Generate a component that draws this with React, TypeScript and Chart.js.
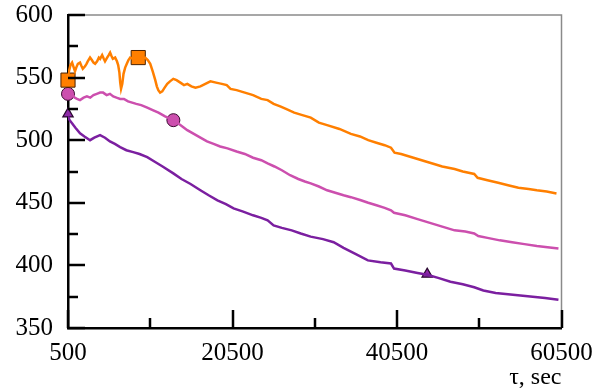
import { useEffect, useRef } from "react";
import { Chart, registerables } from "chart.js";

Chart.register(...registerables);

// axis ticks
const xTickValues = [500, 20500, 40500, 60500];
const xMinorTickValues = [10500, 30500, 50500];
const yTickValues = [350, 400, 450, 500, 550, 600];
const yMinorTickValues = [375, 425, 475, 525, 575];
const xAxisTitle = "τ, sec";

// orange series (top)
const orangeTau = [
  500, 650, 800, 1000, 1200, 1350, 1500, 1700, 1960, 2150,
  2300, 2570, 2750, 2900, 3180, 3400, 3600, 3800, 4040, 4250,
  4400, 4650, 4850, 5000, 5260, 5450, 5620, 5800, 5950, 6230,
  6450, 6600, 6750, 6850, 6950, 7100, 7250, 7450, 7650, 7850,
  8060, 8400, 8700, 9040, 9400, 9890, 10200, 10500, 10800, 11110,
  11300, 11480, 11700, 11960, 12250, 12570, 12900, 13300, 13700, 14160,
  14600, 15010, 15500, 16000, 16600, 17200, 17820, 18500, 19200, 19800,
  20260, 21000, 22000, 23000, 24000, 24770, 25500, 26300, 27000, 28000,
  29000, 30010, 31000, 32000, 33500, 34890, 36000, 37000, 38000, 39000,
  39770, 40200, 41000, 42500, 44000, 45010, 46000, 47500, 48500, 49890,
  50300, 51500, 52800, 54000, 55260, 56500, 57500, 58700, 59890,
];
const orangeValues = [
  551, 556, 560, 562, 558, 555, 558, 561, 562, 559,
  557, 559, 561, 563, 566, 564, 562, 561, 563, 566,
  565, 568, 565, 563, 566, 568, 570, 567, 565, 566,
  563, 560, 554, 546, 541, 545, 553, 558, 561, 564,
  566, 565, 566, 566, 565, 566, 564, 561, 555, 548,
  543, 540, 538, 539, 542, 545, 547, 549, 548, 546,
  544, 545, 543, 542, 543, 545, 547, 546, 545, 544,
  541, 540, 538, 536, 533, 532, 529, 527, 525, 522,
  520, 518, 514, 512, 509, 505, 503, 500, 498, 496,
  494, 490, 489, 486, 483, 481, 479, 477, 475, 473,
  470, 468, 466, 464, 462, 461, 460, 459, 457.5,
];

// magenta series (middle)
const magentaTau = [
  500, 700, 980, 1300, 1600, 1960, 2400, 2800, 3200, 3600,
  4000, 4400, 4768, 5200, 5600, 6000, 6400, 6841, 7300, 7800,
  8300, 8800, 9400, 10134, 10800, 11500, 12300, 13305, 14200, 15000,
  15800, 16598, 17400, 18200, 19000, 19890, 21000, 22000, 23000, 24000,
  24770, 25600, 26500, 27500, 28500, 29300, 30010, 31000, 32000, 33000,
  34000, 34890, 36110, 37000, 38000, 39000, 39770, 40140, 41500, 43000,
  44500, 46000, 47500, 48800, 49890, 50380, 51500, 53000, 54500, 56000,
  57500, 58800, 60130,
];
const magentaValues = [
  537, 539, 537, 534, 533, 532, 534, 535, 534, 536,
  537, 538, 538, 536, 537, 535, 534, 533, 533, 531,
  530, 529, 528, 526, 524, 522, 519, 516, 512, 508,
  505, 502, 499, 497, 495, 493.5, 491, 489, 486, 484,
  481.5, 479, 476, 472, 469, 467, 465.5, 463, 460, 458,
  456, 454.5, 452, 450, 448, 446, 444, 442, 440, 437,
  434, 431, 428, 427, 425.5, 423.5, 422, 420, 418.5, 417,
  415.5, 414.5, 413.5,
];

// purple series (bottom)
const purpleTau = [
  500, 700, 988, 1400, 1963, 2500, 3183, 3700, 4400, 5000,
  5600, 6200, 6841, 7600, 8427, 9200, 10134, 11000, 12000, 13305,
  14300, 15400, 16598, 17600, 18670, 19700, 20630, 21800, 23000, 24000,
  24770, 25500, 26500, 27700, 28800, 30000, 31500, 32800, 34000, 35500,
  36960, 38500, 39770, 40140, 41500, 43000, 44170, 45500, 47000, 48500,
  49890, 51000, 52500, 54000, 55500, 57000, 58500, 60130,
];
const purpleValues = [
  519, 516, 513.5, 510, 505.5, 503, 500, 502, 504, 502,
  499, 497, 494.5, 492, 490.5, 489, 486.5, 483, 479, 473.5,
  469, 465, 460, 456, 452, 449, 445.5, 443, 440, 438,
  436, 432, 430, 428, 425.5, 423, 421, 418.5, 414, 409,
  404, 402.5, 401.5, 397.5, 396, 394, 392.5, 390, 387, 385,
  382.5, 380, 378, 377, 376, 375, 374, 372.5,
];

// markers
const squareTau = [500, 9040];
const squareValues = [548, 566];
const circleTau = [500, 13310];
const circleValues = [537, 516];
const triangleTau = [500, 44170];
const triangleValues = [521, 393];

const ORANGE = "#ff7f00";
const MAGENTA = "#cc4fae";
const PURPLE = "#7b1fa0";

const toPoints = (xs: number[], ys: number[]) => xs.map((x, i) => ({ x, y: ys[i] }));

const frameAndTicks = {
  id: "frameAndTicks",
  afterDatasetsDraw(chart: any) {
    const { ctx, chartArea, scales } = chart;
    const { left, right, top, bottom } = chartArea;
    const x = scales.x;
    const y = scales.y;
    ctx.save();
    ctx.strokeStyle = "#8a8a8a";
    ctx.lineWidth = 1.5;
    ctx.beginPath();
    ctx.moveTo(left, top);
    ctx.lineTo(right, top);
    ctx.lineTo(right, bottom);
    ctx.stroke();

    ctx.strokeStyle = "#000";
    ctx.lineWidth = 2.5;
    ctx.beginPath();
    yTickValues.forEach((v) => {
      const py = Math.round(y.getPixelForValue(v));
      ctx.moveTo(left, py);
      ctx.lineTo(left + 17, py);
    });
    yMinorTickValues.forEach((v) => {
      const py = Math.round(y.getPixelForValue(v));
      ctx.moveTo(left, py);
      ctx.lineTo(left + 10, py);
    });
    xTickValues.forEach((v) => {
      const px = Math.round(x.getPixelForValue(v));
      ctx.moveTo(px, bottom);
      ctx.lineTo(px, bottom - 18);
    });
    xMinorTickValues.forEach((v) => {
      const px = Math.round(x.getPixelForValue(v));
      ctx.moveTo(px, bottom);
      ctx.lineTo(px, bottom - 10);
    });
    ctx.stroke();
    ctx.restore();
  },
};

export default function App() {
  const canvasRef = useRef<HTMLCanvasElement | null>(null);

  useEffect(() => {
    if (!canvasRef.current) return;
    Chart.defaults.font.family = "'Liberation Serif', 'DejaVu Serif', serif";
    Chart.defaults.color = "#000";

    const lineDs = (data: any[], color: string) => ({
      data,
      showLine: true,
      borderColor: color,
      backgroundColor: color,
      borderWidth: 2.5,
      pointRadius: 0,
      tension: 0,
      fill: false,
    });

    const chart = new Chart(canvasRef.current, {
      type: "scatter",
      data: {
        datasets: [
          lineDs(toPoints(purpleTau, purpleValues), PURPLE),
          lineDs(toPoints(magentaTau, magentaValues), MAGENTA),
          lineDs(toPoints(orangeTau, orangeValues), ORANGE),
          {
            data: toPoints(squareTau, squareValues),
            pointStyle: "rect",
            pointRadius: 10,
            backgroundColor: ORANGE,
            borderColor: "#4a2200",
            borderWidth: 1,
            clip: false,
          },
          {
            data: toPoints(circleTau, circleValues),
            pointStyle: "circle",
            pointRadius: 6.5,
            backgroundColor: MAGENTA,
            borderColor: "#3a0a30",
            borderWidth: 1,
            clip: false,
          },
          {
            data: toPoints(triangleTau, triangleValues),
            pointStyle: "triangle",
            pointRadius: 6,
            backgroundColor: "#8e2aa8",
            borderColor: "#2a0830",
            borderWidth: 1.2,
            clip: false,
          },
        ] as any,
      },
      options: {
        animation: false,
        responsive: false,
        maintainAspectRatio: false,
        layout: { padding: { top: 0, right: 42.5, left: 0, bottom: 0 } },
        plugins: {
          legend: { display: false },
          tooltip: { enabled: false },
        },
        scales: {
          x: {
            type: "linear",
            min: 500,
            max: 60500,
            afterBuildTicks: (scale: any) => {
              scale.ticks = xTickValues.map((value) => ({ value }));
            },
            afterFit: (scale: any) => {
              scale.height = 64;
            },
            grid: { display: false, drawTicks: false },
            border: { display: true, color: "#000", width: 2.5 },
            ticks: {
              font: { size: 25 },
              padding: 10,
              maxRotation: 0,
              autoSkip: false,
              callback: (v: any) => String(v),
            },
            title: {
              display: true,
              text: xAxisTitle,
              align: "end",
              font: { size: 24 },
              padding: { top: 0, bottom: 0 },
            },
          },
          y: {
            type: "linear",
            min: 350,
            max: 600,
            afterBuildTicks: (scale: any) => {
              scale.ticks = yTickValues.map((value) => ({ value }));
            },
            afterFit: (scale: any) => {
              scale.width = 68;
              scale.paddingTop = 15;
              scale.paddingBottom = 15;
            },
            grid: { display: false, drawTicks: false },
            border: { display: true, color: "#000", width: 2.5 },
            ticks: {
              font: { size: 25 },
              padding: 15,
              autoSkip: false,
              callback: (v: any) => String(v),
            },
          },
        },
      } as any,
      plugins: [frameAndTicks],
    });
    return () => chart.destroy();
  }, []);

  return (
    <div style={{ position: "fixed", left: 0, top: 0, width: 604, height: 392, background: "#fff" }}>
      <canvas ref={canvasRef} width={604} height={392} style={{ width: 604, height: 392 }} />
    </div>
  );
}
